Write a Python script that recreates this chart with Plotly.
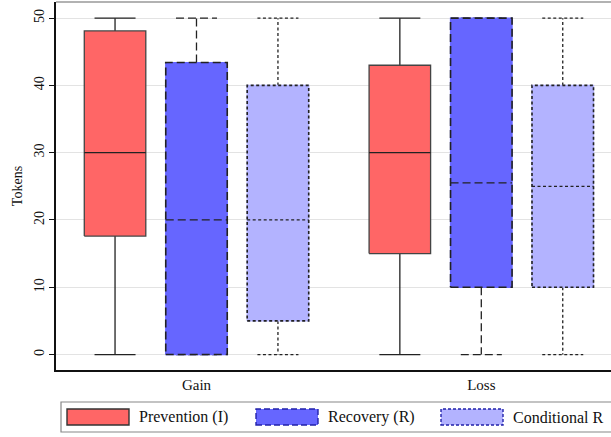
import plotly.graph_objects as go

# ---- data ----
categories = ["Gain", "Loss"]
series_names = ["Prevention (I)", "Recovery (R)", "Conditional R"]

prev_lower = [0, 0]
prev_q1 = [17.6, 15]
prev_median = [30, 30]
prev_q3 = [48.1, 43]
prev_upper = [50, 50]

rec_lower = [0, 0]
rec_q1 = [0, 10]
rec_median = [20, 25.5]
rec_q3 = [43.4, 50]
rec_upper = [50, 50]

cond_lower = [0, 0]
cond_q1 = [5, 10]
cond_median = [20, 25]
cond_q3 = [40, 40]
cond_upper = [50, 50]

y_ticks = [0, 10, 20, 30, 40, 50]

# ---- styling ----
W, H = 611, 437
ML, MT, MR, MB = 56, 2, 0, 67
fills = ["#FF6666", "#6666FF", "#B3B3FF"]
dashes = ["solid", "8px,4px", "3px,2.5px"]
edge = "#222222"
FONT = "Liberation Serif, Times New Roman, serif"
offsets = [-0.286, 0.0, 0.286]
half_box = 0.108
half_cap = 0.072

stats = [
    (prev_lower, prev_q1, prev_median, prev_q3, prev_upper),
    (rec_lower, rec_q1, rec_median, rec_q3, rec_upper),
    (cond_lower, cond_q1, cond_median, cond_q3, cond_upper),
]

fig = go.Figure()

for s, (lo, q1, med, q3, up) in enumerate(stats):
    bx, by, mx, my, wx, wy = [], [], [], [], [], []
    for g in range(len(categories)):
        c = g + offsets[s]
        l, r = c - half_box, c + half_box
        bx += [l, r, r, l, l, None]
        by += [q1[g], q1[g], q3[g], q3[g], q1[g], None]
        mx += [l, r, None]
        my += [med[g], med[g], None]
        wx += [c, c, None, c, c, None]
        wy += [q3[g], up[g], None, q1[g], lo[g], None]
        wx += [c - half_cap, c + half_cap, None, c - half_cap, c + half_cap, None]
        wy += [up[g], up[g], None, lo[g], lo[g], None]
    fig.add_trace(go.Scatter(x=wx, y=wy, mode="lines", showlegend=False, hoverinfo="skip",
                             line=dict(color=edge, width=1.3, dash=dashes[s])))
    fig.add_trace(go.Scatter(x=bx, y=by, mode="lines", fill="toself", fillcolor=fills[s],
                             showlegend=False, hoverinfo="skip",
                             line=dict(color=fills[s] if s > 0 else "#444444", width=1.3)))
    if s > 0:
        fig.add_trace(go.Scatter(x=bx, y=by, mode="lines", showlegend=False, hoverinfo="skip",
                                 line=dict(color=edge, width=1.6, dash=dashes[s])))
    fig.add_trace(go.Scatter(x=mx, y=my, mode="lines", showlegend=False, hoverinfo="skip",
                             line=dict(color=edge, width=1.3, dash=dashes[s])))

# ---- manual legend ----
pw = W - ML - MR
ph = H - MT - MB


def px_x(p):
    return (p - ML) / pw


def px_y(p):
    return (H - MB - p) / ph


shapes = [
    dict(type="line", xref="paper", yref="paper", x0=0, x1=1.05, y0=1, y1=1,
         line=dict(color="#666666", width=1.2)),
    dict(type="rect", xref="paper", yref="paper", x0=px_x(61), x1=px_x(630),
         y0=px_y(432), y1=px_y(402), line=dict(color="#888888", width=1.2),
         fillcolor="rgba(0,0,0,0)"),
]
annotations = []
sym_x = [67, 256, 441]
for s, name in enumerate(series_names):
    x0, x1 = sym_x[s], sym_x[s] + 62
    shapes.append(dict(type="rect", xref="paper", yref="paper", x0=px_x(x0), x1=px_x(x1),
                       y0=px_y(425), y1=px_y(409), fillcolor=fills[s],
                       line=dict(color="#333333" if s == 0 else "#2222AA", width=1.4,
                                 dash="solid" if s == 0 else ("6px,3px" if s == 1 else "3px,2px"))))
    annotations.append(dict(xref="paper", yref="paper", x=px_x(x1 + 8), y=px_y(417),
                            text=name, showarrow=False, xanchor="left", yanchor="middle",
                            font=dict(family=FONT, size=16, color="#111111")))

fig.update_layout(
    width=W, height=H,
    margin=dict(l=ML, r=MR, t=MT, b=MB, autoexpand=False),
    paper_bgcolor="white", plot_bgcolor="white",
    font=dict(family=FONT, color="#111111"),
    shapes=shapes, annotations=annotations,
    showlegend=False,
)
fig.update_xaxes(
    range=[-0.4933, 1.4554], tickvals=[0, 1], ticktext=categories,
    showgrid=False, zeroline=False, showline=True, linecolor="#111111", linewidth=1.5,
    ticks="", tickfont=dict(family=FONT, size=15, color="#111111"), automargin=False,
)
fig.update_yaxes(
    range=[-2.3, 52.4], tickvals=y_ticks, ticktext=[str(v) for v in y_ticks],
    tickangle=-90, showgrid=True, gridcolor="#E3E3E3", gridwidth=1, zeroline=False,
    showline=True, linecolor="#111111", linewidth=1.5, ticks="outside", ticklen=5,
    tickcolor="#111111", tickfont=dict(family=FONT, size=14, color="#111111"),
    title=dict(text="Tokens", font=dict(family=FONT, size=14, color="#111111"), standoff=6),
    automargin=False,
)

fig.write_html("out.html", config={"displayModeBar": False},
               post_script="document.body.style.margin='0';")
